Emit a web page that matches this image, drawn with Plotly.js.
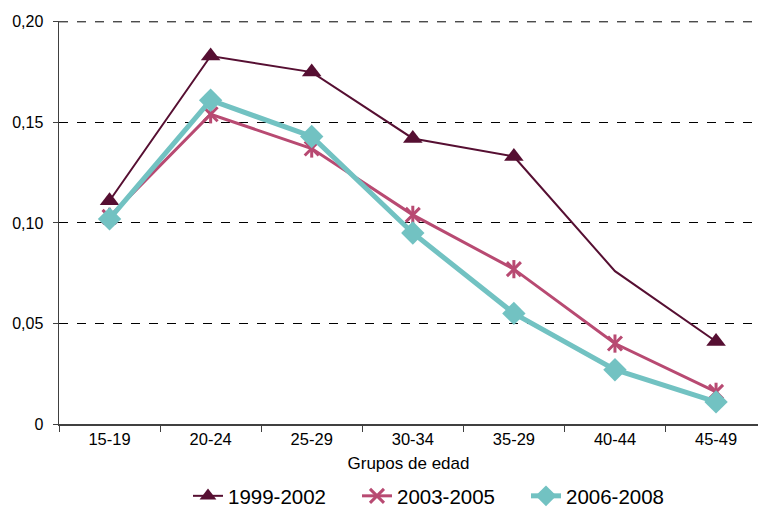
<!DOCTYPE html>
<html>
<head>
<meta charset="utf-8">
<script src="https://cdn.plot.ly/plotly-3.0.1.min.js"></script>
<style>html,body{margin:0;padding:0;background:#fff;}#chart{width:758px;height:508px;}</style>
</head>
<body>
<div id="chart"></div>
<script>
const categories = ["15-19","20-24","25-29","30-34","35-29","40-44","45-49"];
const s1999 = [0.111, 0.183, 0.175, 0.142, 0.133, 0.076, 0.041];
const s2003 = [0.103, 0.154, 0.137, 0.104, 0.077, 0.040, 0.016];
const s2006 = [0.102, 0.161, 0.143, 0.095, 0.055, 0.027, 0.011];
const seriesNames = ["1999-2002","2003-2005","2006-2008"];
const yTickVals = [0, 0.05, 0.10, 0.15, 0.20];
const yTickText = ["0","0,05","0,10","0,15","0,20"];

const c1 = "#560f32", c2 = "#b84a72", c3 = "#72c2c2";

const traces = [
  {
    x: categories, y: s1999, name: seriesNames[0], type: "scatter", mode: "lines+markers",
    line: {color: c1, width: 2},
    marker: {symbol: "triangle-up", size: [17,17,17,17,17,0,17], color: c1, opacity: 1, line: {width: 0}}
  },
  {
    x: categories, y: s2003, name: seriesNames[1], type: "scatter", mode: "lines+markers",
    line: {color: c2, width: 3},
    marker: {symbol: "x-thin-open", size: 14, color: c2, opacity: 1, line: {color: c2, width: 3}}
  },
  {
    x: categories, y: s2003, name: seriesNames[1], type: "scatter", mode: "markers",
    showlegend: false,
    marker: {symbol: "line-ns-open", size: 13, color: c2, opacity: 1, line: {color: c2, width: 3}}
  },
  {
    x: categories, y: s2006, name: seriesNames[2], type: "scatter", mode: "lines+markers",
    line: {color: c3, width: 5},
    marker: {symbol: "diamond", size: 18, color: c3, opacity: 1, line: {width: 0}}
  }
];

const topTick = yTickVals[yTickVals.length - 1];

const layout = {
  width: 758, height: 508,
  margin: {l: 59, r: 0, t: 21, b: 84},
  paper_bgcolor: "#ffffff", plot_bgcolor: "#ffffff",
  font: {family: "Liberation Sans, Arial, sans-serif", color: "#000", size: 16},
  showlegend: true,
  legend: {orientation: "h", xref: "container", yref: "container",
           x: 0.248, xanchor: "left", y: 12/508, yanchor: "middle",
           entrywidth: 124, entrywidthmode: "pixels",
           font: {size: 20.5}, traceorder: "normal"},
  xaxis: {
    type: "category", range: [-0.5, 6.415],
    showline: true, linecolor: "#404040", linewidth: 1.5,
    ticks: "outside", tickson: "boundaries", ticklen: 6, tickcolor: "#404040",
    showgrid: false, zeroline: false,
    tickfont: {size: 16.5},
    title: {text: "Grupos de edad", font: {size: 17}, standoff: 10}
  },
  yaxis: {
    range: [0, 0.2004], tickvals: yTickVals, ticktext: yTickText,
    showline: true, linecolor: "#404040", linewidth: 1.5,
    ticks: "outside", ticklen: 5, tickcolor: "#404040", ticklabelstandoff: 6,
    showgrid: true, gridcolor: "#000", gridwidth: 1, griddash: "dash",
    zeroline: false, tickfont: {size: 16}
  },
  shapes: [{
    type: "line", xref: "paper", yref: "y", x0: 0, x1: 1, y0: topTick, y1: topTick,
    line: {color: "#000", width: 1, dash: "dash"}, layer: "below"
  }]
};

Plotly.newPlot("chart", traces, layout, {displayModeBar: false, staticPlot: true});
</script>
</body>
</html>
